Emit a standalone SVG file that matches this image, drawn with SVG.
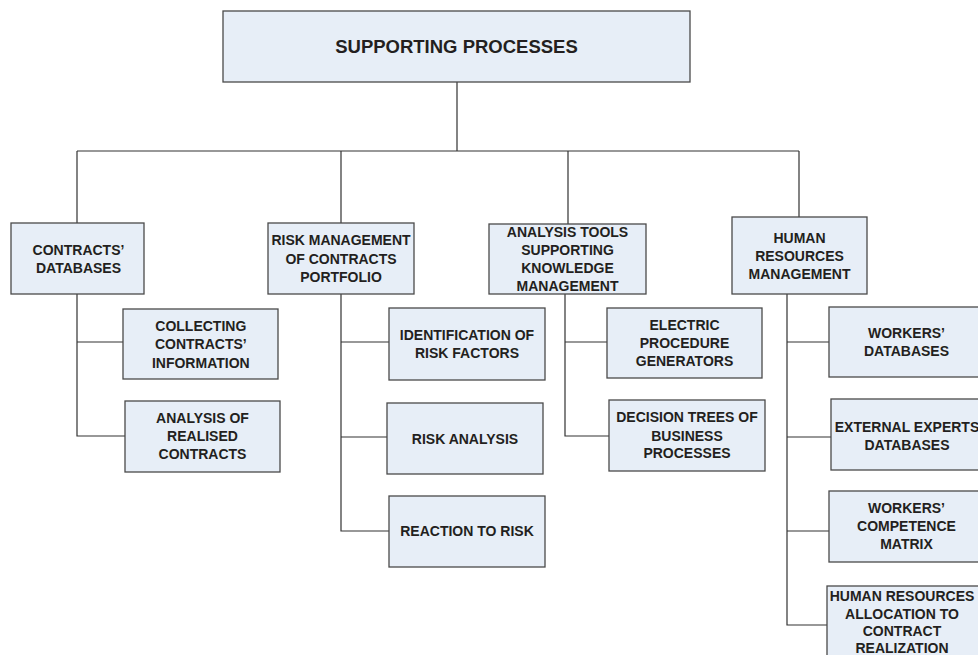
<svg xmlns="http://www.w3.org/2000/svg" width="978" height="655" viewBox="0 0 978 655">
<style>
.b{fill:#e7eef7;stroke:#4a4a4a;stroke-width:1.3}
.t{font-family:"Liberation Sans",Arial,sans-serif;font-weight:bold;font-size:14px;fill:#231f20;text-anchor:middle}
.c{fill:none;stroke:#333;stroke-width:1.2}
</style>
<rect width="978" height="655" fill="#fff"/>
<g id="connectors">
<path class="c" d="M457 82V151M77 151H799M77 151V223M341 151V223M568 151V224M799 151V217"/>
<path class="c" d="M77 294V436H125M77 342H123"/>
<path class="c" d="M341 294V531H389M341 342H389M341 437H387"/>
<path class="c" d="M565 294V436H609M565 342H607"/>
<path class="c" d="M787 294V625H827M787 342H829M787 437H831M787 531H829"/>
</g>
<g id="n-top"><rect class="b" x="223" y="11" width="467" height="71"/><text class="t" x="456.5" y="52.7" style="font-size:18.5px">SUPPORTING PROCESSES</text></g>
<g id="n-contracts"><rect class="b" x="11" y="223" width="133" height="71"/><text class="t" x="78.5" y="255">CONTRACTS’</text><text class="t" x="78.5" y="273">DATABASES</text></g>
<g id="n-collecting"><rect class="b" x="123" y="309" width="155" height="70"/><text class="t" x="200.8" y="331">COLLECTING</text><text class="t" x="200.8" y="349.3">CONTRACTS’</text><text class="t" x="200.8" y="367.7">INFORMATION</text></g>
<g id="n-realised"><rect class="b" x="125" y="401" width="155" height="71"/><text class="t" x="202.5" y="423.3">ANALYSIS OF</text><text class="t" x="202.5" y="441">REALISED</text><text class="t" x="202.5" y="458.5">CONTRACTS</text></g>
<g id="n-risk"><rect class="b" x="268" y="223" width="146" height="71"/><text class="t" x="341" y="245">RISK MANAGEMENT</text><text class="t" x="341" y="264">OF CONTRACTS</text><text class="t" x="341" y="282">PORTFOLIO</text></g>
<g id="n-identification"><rect class="b" x="389" y="308" width="156" height="72"/><text class="t" x="467" y="340">IDENTIFICATION OF</text><text class="t" x="467" y="358.3">RISK FACTORS</text></g>
<g id="n-riskanalysis"><rect class="b" x="387" y="403" width="156" height="71"/><text class="t" x="465" y="444">RISK ANALYSIS</text></g>
<g id="n-reaction"><rect class="b" x="389" y="496" width="156" height="71"/><text class="t" x="467" y="536">REACTION TO RISK</text></g>
<g id="n-tools"><rect class="b" x="489" y="224" width="157" height="70"/><text class="t" x="567.5" y="236.7">ANALYSIS TOOLS</text><text class="t" x="567.5" y="255">SUPPORTING</text><text class="t" x="567.5" y="273.3">KNOWLEDGE</text><text class="t" x="567.5" y="291">MANAGEMENT</text></g>
<g id="n-electric"><rect class="b" x="607" y="308" width="155" height="70"/><text class="t" x="684.5" y="330">ELECTRIC</text><text class="t" x="684.5" y="348.3">PROCEDURE</text><text class="t" x="684.5" y="366">GENERATORS</text></g>
<g id="n-decision"><rect class="b" x="609" y="400" width="156" height="71"/><text class="t" x="687" y="422.3">DECISION TREES OF</text><text class="t" x="687" y="440.7">BUSINESS</text><text class="t" x="687" y="457.7">PROCESSES</text></g>
<g id="n-hr"><rect class="b" x="732" y="217" width="135" height="77"/><text class="t" x="799.5" y="243.3">HUMAN</text><text class="t" x="799.5" y="261">RESOURCES</text><text class="t" x="799.5" y="279">MANAGEMENT</text></g>
<g id="n-workers"><rect class="b" x="829" y="307" width="155" height="70"/><text class="t" x="906.5" y="338.3">WORKERS’</text><text class="t" x="906.5" y="355.7">DATABASES</text></g>
<g id="n-external"><rect class="b" x="831" y="399" width="153" height="71"/><text class="t" x="907" y="431.5">EXTERNAL EXPERTS</text><text class="t" x="907" y="449.5">DATABASES</text></g>
<g id="n-competence"><rect class="b" x="829" y="491" width="155" height="71"/><text class="t" x="906.5" y="513.3">WORKERS’</text><text class="t" x="906.5" y="531">COMPETENCE</text><text class="t" x="906.5" y="549">MATRIX</text></g>
<g id="n-allocation"><rect class="b" x="827" y="586" width="155" height="80"/><text class="t" x="902" y="601.3">HUMAN RESOURCES</text><text class="t" x="902" y="618.6">ALLOCATION TO</text><text class="t" x="902" y="635.8">CONTRACT</text><text class="t" x="902" y="653">REALIZATION</text></g>
</svg>
